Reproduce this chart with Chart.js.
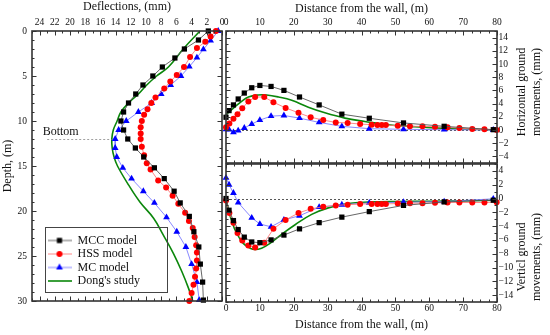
<!DOCTYPE html>
<html><head><meta charset="utf-8">
<script src="https://cdn.jsdelivr.net/npm/chart.js@4.4.1/dist/chart.umd.min.js"></script>
<style>
html,body{margin:0;padding:0;background:#fff;}
#wrap{position:relative;width:550px;height:335px;overflow:hidden;background:#fff;}
.layer{position:absolute;left:0;top:0;}
#legendBox{position:absolute;left:45px;top:227px;width:121px;height:64px;border:1px solid #444;}
#legendBox canvas{position:absolute;left:0;top:0;}
</style></head><body>
<div id="wrap">
<canvas id="cLeft" class="layer" width="550" height="335"></canvas>
<canvas id="cTop" class="layer" width="550" height="335"></canvas>
<canvas id="cBot" class="layer" width="550" height="335"></canvas>
<div id="legendBox"><canvas id="cLeg" width="121" height="150"></canvas></div>
</div>
<script>
// ---------- tick labels ----------
const deflTicks  = [0,2,4,6,8,10,12,14,16,18,20,22,24];
const depthTicks = [0,5,10,15,20,25,30];
const distTicks  = [0,10,20,30,40,50,60,70,80];
const horizTicks = [-4,-2,0,2,4,6,8,10,12,14];
const vertTicks  = [-14,-12,-10,-8,-6,-4,-2,0,2,4];

// ---------- Left panel: wall deflection (mm) vs depth (m) ----------
const mccDepth = [0,1,2,3,4,5,6,7,8,9,10,11,12,13,14,15.2,16.4,17.8,19.1,20.6,22.3,24.0,25.9,27.9,29.9];
const mccDefl  = [1.8,3.1,4.95,6.2,7.85,9.1,10.4,11.35,12.3,12.95,13.3,12.95,12.4,11.4,10.3,8.9,7.6,6.3,5.5,4.3,3.7,3.05,2.85,2.55,2.45];
const hssDepth = [0,0.6,1.2,1.9,2.9,4.0,4.9,5.6,6.4,7.4,8.0,8.7,9.3,10.0,10.7,11.4,12.0,12.85,13.8,14.7,15.4,16.6,17.4,18.3,19.2,20.2,21.1,21.9,22.9,23.8,24.6,25.5,26.4,27.3,28.2,29.1,30.0];
const hssDefl  = [0.8,1.5,2.2,3.3,4.2,5.0,5.95,6.8,7.6,8.75,9.3,9.8,10.25,10.55,10.7,10.7,10.7,10.55,10.25,9.9,9.4,8.4,7.35,6.5,5.75,4.85,4.35,3.85,3.6,3.4,3.3,3.3,3.4,3.55,3.75,4.0,4.3];
const mcDepth  = [0,1.07,2.04,2.96,3.96,5.0,6.0,7.0,8.0,9.0,10.0,11.0,12.0,13.0,14.0,15.2,16.4,17.8,19.1,20.7,22.3,24.0,25.9,27.9,29.9];
const mcDefl   = [0.5,1.5,2.45,3.3,4.3,5.4,6.75,8.0,9.25,11.0,12.6,13.6,14.05,14.05,13.85,13.05,11.9,10.35,8.9,7.3,5.95,4.75,4.0,3.3,3.0];
const dongDepth = [0,2,4,5,6,7,8,9,10,11,12,13,14,15,17.1,19,20.8,22.7,24.7,26.7,28.6,30];
const dongDefl  = [2.9,5.1,7.05,8.6,9.9,11.0,12.3,13.3,13.8,14.3,14.5,14.45,14.2,13.75,12.3,10.8,9.0,7.7,6.4,5.3,4.4,3.85];

// ---------- Right panels: distance from the wall (m) ----------
const distMccMc = [0,0.9,2.2,3.6,5.4,7.6,10.0,13.3,17.1,21.7,27.5,34.2,42.3,52.4,64.4,78.9];
const mccHoriz  = [1.93,2.94,3.8,4.7,5.6,6.4,6.75,6.6,6.0,5.0,3.8,2.4,1.78,1.07,0.56,0.05];
const mcHoriz   = [0.1,0.05,-0.35,-0.1,0.3,0.9,1.5,2.1,2.2,1.8,1.15,0.55,0.2,0.1,0.05,0];
const mccVert   = [0,-1.7,-3.2,-4.5,-5.6,-6.3,-6.4,-6.0,-5.3,-4.4,-3.5,-2.7,-1.9,-1.0,-0.5,-0.25];
const distMcVert = [0,0.9,2.2,3.6,7.6,10.0,13.3,17.1,21.7,27.5,34.2,42.3,52.4,64.4,78.9];
const mcVert     = [3.0,2.0,0.8,-0.6,-2.8,-3.7,-4.1,-3.1,-2.5,-1.25,-0.9,-0.63,-0.53,-0.44,-0.05];
const distHss  = [0,1.0,2.2,3.4,4.8,6.6,8.6,11.3,14.0,17.6,21.4,25.0,28.7,32.4,35.9,39.6,43.0,44.7,46.0,47.2,50.7,54.3,58.0,61.7,65.4,68.9,72.7,76.3,79.9];
const hssHoriz = [0.4,1.0,1.7,2.4,3.3,4.3,5.0,5.0,4.2,3.35,2.6,1.93,1.5,1.15,1.07,0.9,0.8,0.75,0.75,0.75,0.65,0.55,0.55,0.5,0.4,0.3,0.15,0.1,0];
const hssVert  = [-0.3,-2.1,-3.5,-5.0,-6.1,-6.8,-7.1,-6.4,-4.4,-3.1,-2.1,-1.5,-1.2,-1.0,-0.9,-0.8,-0.78,-0.78,-0.78,-0.78,-0.73,-0.68,-0.68,-0.63,-0.58,-0.58,-0.58,-0.58,-0.53];
const distDongH = [0,2.7,4.6,6.6,9.5,12.0,15.5,19.4,24.3,29.2,35.1,41.0,47.9,55.8,65.6,80];
const dongHoriz = [2.3,3.55,4.35,5.0,5.3,5.3,5.0,4.5,3.45,2.6,1.8,1.3,0.8,0.5,0.25,0];
const distDongV = [0,0.7,1.7,3.1,5.1,7.1,8.6,10.5,13.0,16.4,20.4,25.3,30.2,36.1,42.0,50.9,60.7,80];
const dongVert  = [0,-1.6,-3.3,-5.0,-6.5,-7.2,-7.4,-7.2,-6.5,-5.2,-3.8,-2.3,-1.36,-0.73,-0.53,-0.44,-0.39,-0.25];

const seriesNames = ['MCC model','HSS model','MC model',"Dong's study"];

// ---------- helpers ----------
const FONT = "'Liberation Serif','Times New Roman',serif";
Chart.defaults.font.family = FONT;
const fmt = v => v < 0 ? '\u2212' + Math.abs(v) : String(v);
const xy = (xs, ys) => xs.map((x, i) => ({x: x, y: ys[i]}));

const ST = {
  mcc:  {color:'#000000', line:'#555555', pointStyle:'rect', radius:3.7},
  hss:  {color:'#ff0000', line:'#ff7a7a', pointStyle:'circle', radius:3},
  mc:   {color:'#0000ff', line:'#7a7aff', pointStyle:'triangle', radius:3.9},
  dong: {line:'#0b870b', width:1.6}
};
function markerSet(label, data, st) {
  return {label, data, showLine:true, borderColor:st.line, borderWidth:0.9,
    backgroundColor:st.color, pointBackgroundColor:st.color, pointBorderColor:st.color,
    pointBorderWidth:0, pointStyle:st.pointStyle, pointRadius:st.radius, pointHoverRadius:st.radius,
    tension:0, clip:6};
}
function lineSet(label, data, st) {
  return {label, data, showLine:true, borderColor:st.line, borderWidth:st.width,
    pointRadius:0, pointHoverRadius:0, tension:0.4, fill:false, clip:6};
}

// inward ticks on every side + frame
const frameTicks = {
  id:'frameTicks',
  afterDatasetsDraw(chart, args, o) {
    const {ctx, chartArea:a} = chart;
    ctx.save();
    ctx.strokeStyle = '#333'; ctx.lineWidth = 1;
    Object.values(chart.scales).forEach(s => {
      if (!s.options.display) return;
      const step = (o.minor || {})[s.id] || 0;
      const lo = Math.min(s.min, s.max), hi = Math.max(s.min, s.max);
      const majors = s.ticks.map(t => t.value);
      const marks = majors.map(v => [v, 4.5]);
      if (step) {
        for (let k = Math.ceil(lo / step - 1e-9); k * step <= hi + 1e-9; k++) {
          const v = k * step;
          if (!majors.some(m => Math.abs(m - v) < 1e-6)) marks.push([v, 2.5]);
        }
      }
      marks.forEach(([v, len]) => {
        const p = Math.round(s.getPixelForValue(v)) + 0.5;
        ctx.beginPath();
        if (s.isHorizontal()) {
          ctx.moveTo(p, a.top); ctx.lineTo(p, a.top + len);
          ctx.moveTo(p, a.bottom); ctx.lineTo(p, a.bottom - len);
        } else {
          ctx.moveTo(a.left, p); ctx.lineTo(a.left + len, p);
          ctx.moveTo(a.right, p); ctx.lineTo(a.right - len, p);
        }
        ctx.stroke();
      });
    });
    ctx.lineWidth = 1.6;
    ctx.strokeRect(a.left, a.top, a.right - a.left, a.bottom - a.top);
    ctx.restore();
  }
};
// dotted zero line
const zeroLine = {
  id:'zeroLine',
  beforeDatasetsDraw(chart, args, o) {
    if (!o || !o.show) return;
    const {ctx, chartArea:a, scales:{y}} = chart;
    const p = Math.round(y.getPixelForValue(0)) + 0.5;
    ctx.save(); ctx.strokeStyle = '#444'; ctx.lineWidth = 0.9; ctx.setLineDash([2, 2]);
    ctx.beginPath(); ctx.moveTo(a.left, p); ctx.lineTo(a.right, p); ctx.stroke(); ctx.restore();
  }
};
// rotated title on the right side (reads bottom to top)
const sideTitle = {
  id:'sideTitle',
  afterDraw(chart, args, o) {
    if (!o || !o.lines) return;
    const {ctx, chartArea:a} = chart;
    ctx.save();
    ctx.font = '12px ' + FONT; ctx.fillStyle = '#111'; ctx.textAlign = 'center'; ctx.textBaseline = 'middle';
    ctx.translate(a.right + o.dx, (a.top + a.bottom) / 2 + o.dy);
    ctx.rotate(-Math.PI / 2);
    o.lines.forEach((t, i) => ctx.fillText(t, 0, i * o.lineHeight));
    ctx.restore();
  }
};
// excavation bottom mark
const bottomMark = {
  id:'bottomMark',
  afterDatasetsDraw(chart, args, o) {
    if (!o || !o.text) return;
    const {ctx, scales:{x, y}} = chart;
    const yy = Math.round(y.getPixelForValue(o.depth)) + 0.5;
    ctx.save(); ctx.strokeStyle = '#888'; ctx.lineWidth = 0.8; ctx.setLineDash([2, 2]);
    ctx.beginPath(); ctx.moveTo(x.getPixelForValue(o.from), yy); ctx.lineTo(x.getPixelForValue(o.to), yy); ctx.stroke();
    ctx.setLineDash([]);
    ctx.font = '12px ' + FONT; ctx.fillStyle = '#111'; ctx.textAlign = 'left'; ctx.textBaseline = 'middle';
    ctx.fillText(o.text, x.getPixelForValue(o.textX), y.getPixelForValue(o.textY));
    ctx.restore();
  }
};

const tickFont = {family:FONT, size:9.5};
const titleFont = {family:FONT, size:12};
function linAxis(extra, tickValues) {
  const ticks = Object.assign({font:tickFont, color:'#111', autoSkip:false, maxRotation:0, callback:fmt}, extra.ticks || {});
  return Object.assign({type:'linear', grid:{display:false, drawTicks:false}, border:{display:false},
    afterBuildTicks(s){ s.ticks = tickValues.map(v => ({value:v})); }}, extra, {ticks:ticks});
}
const common = {responsive:false, animation:false, devicePixelRatio:1, events:[]};

// ---------- left chart ----------
new Chart(document.getElementById('cLeft'), {
  type:'scatter',
  data:{datasets:[
    markerSet(seriesNames[0], xy(mccDefl, mccDepth), ST.mcc),
    markerSet(seriesNames[1], xy(hssDefl, hssDepth), ST.hss),
    markerSet(seriesNames[2], xy(mcDefl, mcDepth), ST.mc),
    lineSet(seriesNames[3], xy(dongDefl, dongDepth), ST.dong)
  ]},
  options:Object.assign({}, common, {
    layout:{padding:{left:0, top:0, right:328, bottom:34}},
    plugins:{legend:{display:false}, tooltip:{enabled:false},
      frameTicks:{minor:{x:1, y:1}},
      bottomMark:{text:'Bottom', depth:12, from:23, to:14.5, textX:23.6, textY:11.15}},
    scales:{
      x:linAxis({position:'top', reverse:true, min:0, max:25, ticks:{padding:3},
        title:{display:true, text:'Deflections, (mm)', font:titleFont, color:'#111', padding:{top:0, bottom:0}},
        afterFit(s){ s.height = 31; }}, deflTicks),
      y:linAxis({position:'left', reverse:true, min:0, max:30, ticks:{padding:5},
        title:{display:true, text:'Depth, (m)', font:titleFont, color:'#111', padding:{top:1, bottom:0}},
        afterFit(s){ s.width = 32; }}, depthTicks)
    }
  }),
  plugins:[frameTicks, bottomMark]
});

// ---------- top right chart ----------
new Chart(document.getElementById('cTop'), {
  type:'scatter',
  data:{datasets:[
    markerSet(seriesNames[0], xy(distMccMc, mccHoriz), ST.mcc),
    markerSet(seriesNames[1], xy(distHss, hssHoriz), ST.hss),
    markerSet(seriesNames[2], xy(distMccMc, mcHoriz), ST.mc),
    lineSet(seriesNames[3], xy(distDongH, dongHoriz), ST.dong)
  ]},
  options:Object.assign({}, common, {
    layout:{padding:{left:226, top:0, right:0, bottom:172}},
    plugins:{legend:{display:false}, tooltip:{enabled:false},
      frameTicks:{minor:{x:2.5, y:1}}, zeroLine:{show:true},
      sideTitle:{lines:['Horizontal ground','movements, (mm)'], dx:25, dy:-5, lineHeight:14.5}},
    scales:{
      x:linAxis({position:'top', min:0, max:80, ticks:{padding:3},
        title:{display:true, text:'Distance from the wall, (m)', font:titleFont, color:'#111', padding:{top:2, bottom:0}},
        afterFit(s){ s.height = 31; }}, distTicks),
      y:linAxis({position:'right', min:-5, max:15, ticks:{padding:1.5},
        afterFit(s){ s.width = 53; }}, horizTicks)
    }
  }),
  plugins:[zeroLine, frameTicks, sideTitle]
});

// ---------- bottom right chart ----------
new Chart(document.getElementById('cBot'), {
  type:'scatter',
  data:{datasets:[
    markerSet(seriesNames[0], xy(distMccMc, mccVert), ST.mcc),
    markerSet(seriesNames[1], xy(distHss, hssVert), ST.hss),
    markerSet(seriesNames[2], xy(distMcVert, mcVert), ST.mc),
    lineSet(seriesNames[3], xy(distDongV, dongVert), ST.dong)
  ]},
  options:Object.assign({}, common, {
    layout:{padding:{left:226, top:164, right:0, bottom:0}},
    plugins:{legend:{display:false}, tooltip:{enabled:false},
      frameTicks:{minor:{x:2.5, y:1}}, zeroLine:{show:true},
      sideTitle:{lines:['Verticl ground','movements, (mm)'], dx:25, dy:24, lineHeight:14.5}},
    scales:{
      x:linAxis({position:'bottom', min:0, max:80, ticks:{padding:1},
        title:{display:true, text:'Distance from the wall, (m)', font:titleFont, color:'#111', padding:{top:0, bottom:3}},
        afterFit(s){ s.height = 33; }}, distTicks),
      y:linAxis({position:'right', min:-15, max:5, ticks:{padding:1.5},
        afterFit(s){ s.width = 53; }}, vertTicks)
    }
  }),
  plugins:[zeroLine, frameTicks, sideTitle]
});

// ---------- legend ----------
function symbol(st) {
  const c = document.createElement('canvas'); c.width = 24; c.height = 10;
  const g = c.getContext('2d');
  g.strokeStyle = st.line; g.lineWidth = st.width || 0.9;
  g.beginPath(); g.moveTo(0, 5); g.lineTo(24, 5); g.stroke();
  if (st.pointStyle) {
    g.fillStyle = st.color; g.strokeStyle = st.color;
    Chart.helpers.drawPoint(g, {pointStyle:st.pointStyle, radius:st.radius, borderWidth:0, rotation:0}, 12, 5);
  }
  return c;
}
const legendSymbols = [symbol(ST.mcc), symbol(ST.hss), symbol(ST.mc), symbol(ST.dong)];
new Chart(document.getElementById('cLeg'), {
  type:'scatter',
  data:{datasets:seriesNames.map(n => ({label:n, data:[]}))},
  options:Object.assign({}, common, {
    layout:{padding:{top:5, left:0, right:0, bottom:0}},
    scales:{x:{display:false}, y:{display:false}},
    plugins:{tooltip:{enabled:false},
      legend:{display:true, position:'top', align:'start',
        labels:{usePointStyle:true, pointStyleWidth:24, padding:1.5, color:'#111', font:{family:FONT, size:12},
          generateLabels:(chart) => chart.data.datasets.map((d, i) => ({
            text:d.label, pointStyle:legendSymbols[i], fillStyle:'rgba(0,0,0,0)', strokeStyle:'rgba(0,0,0,0)',
            lineWidth:0, hidden:false, datasetIndex:i, fontColor:'#111'}))}}}
  })
});
</script>
</body></html>
